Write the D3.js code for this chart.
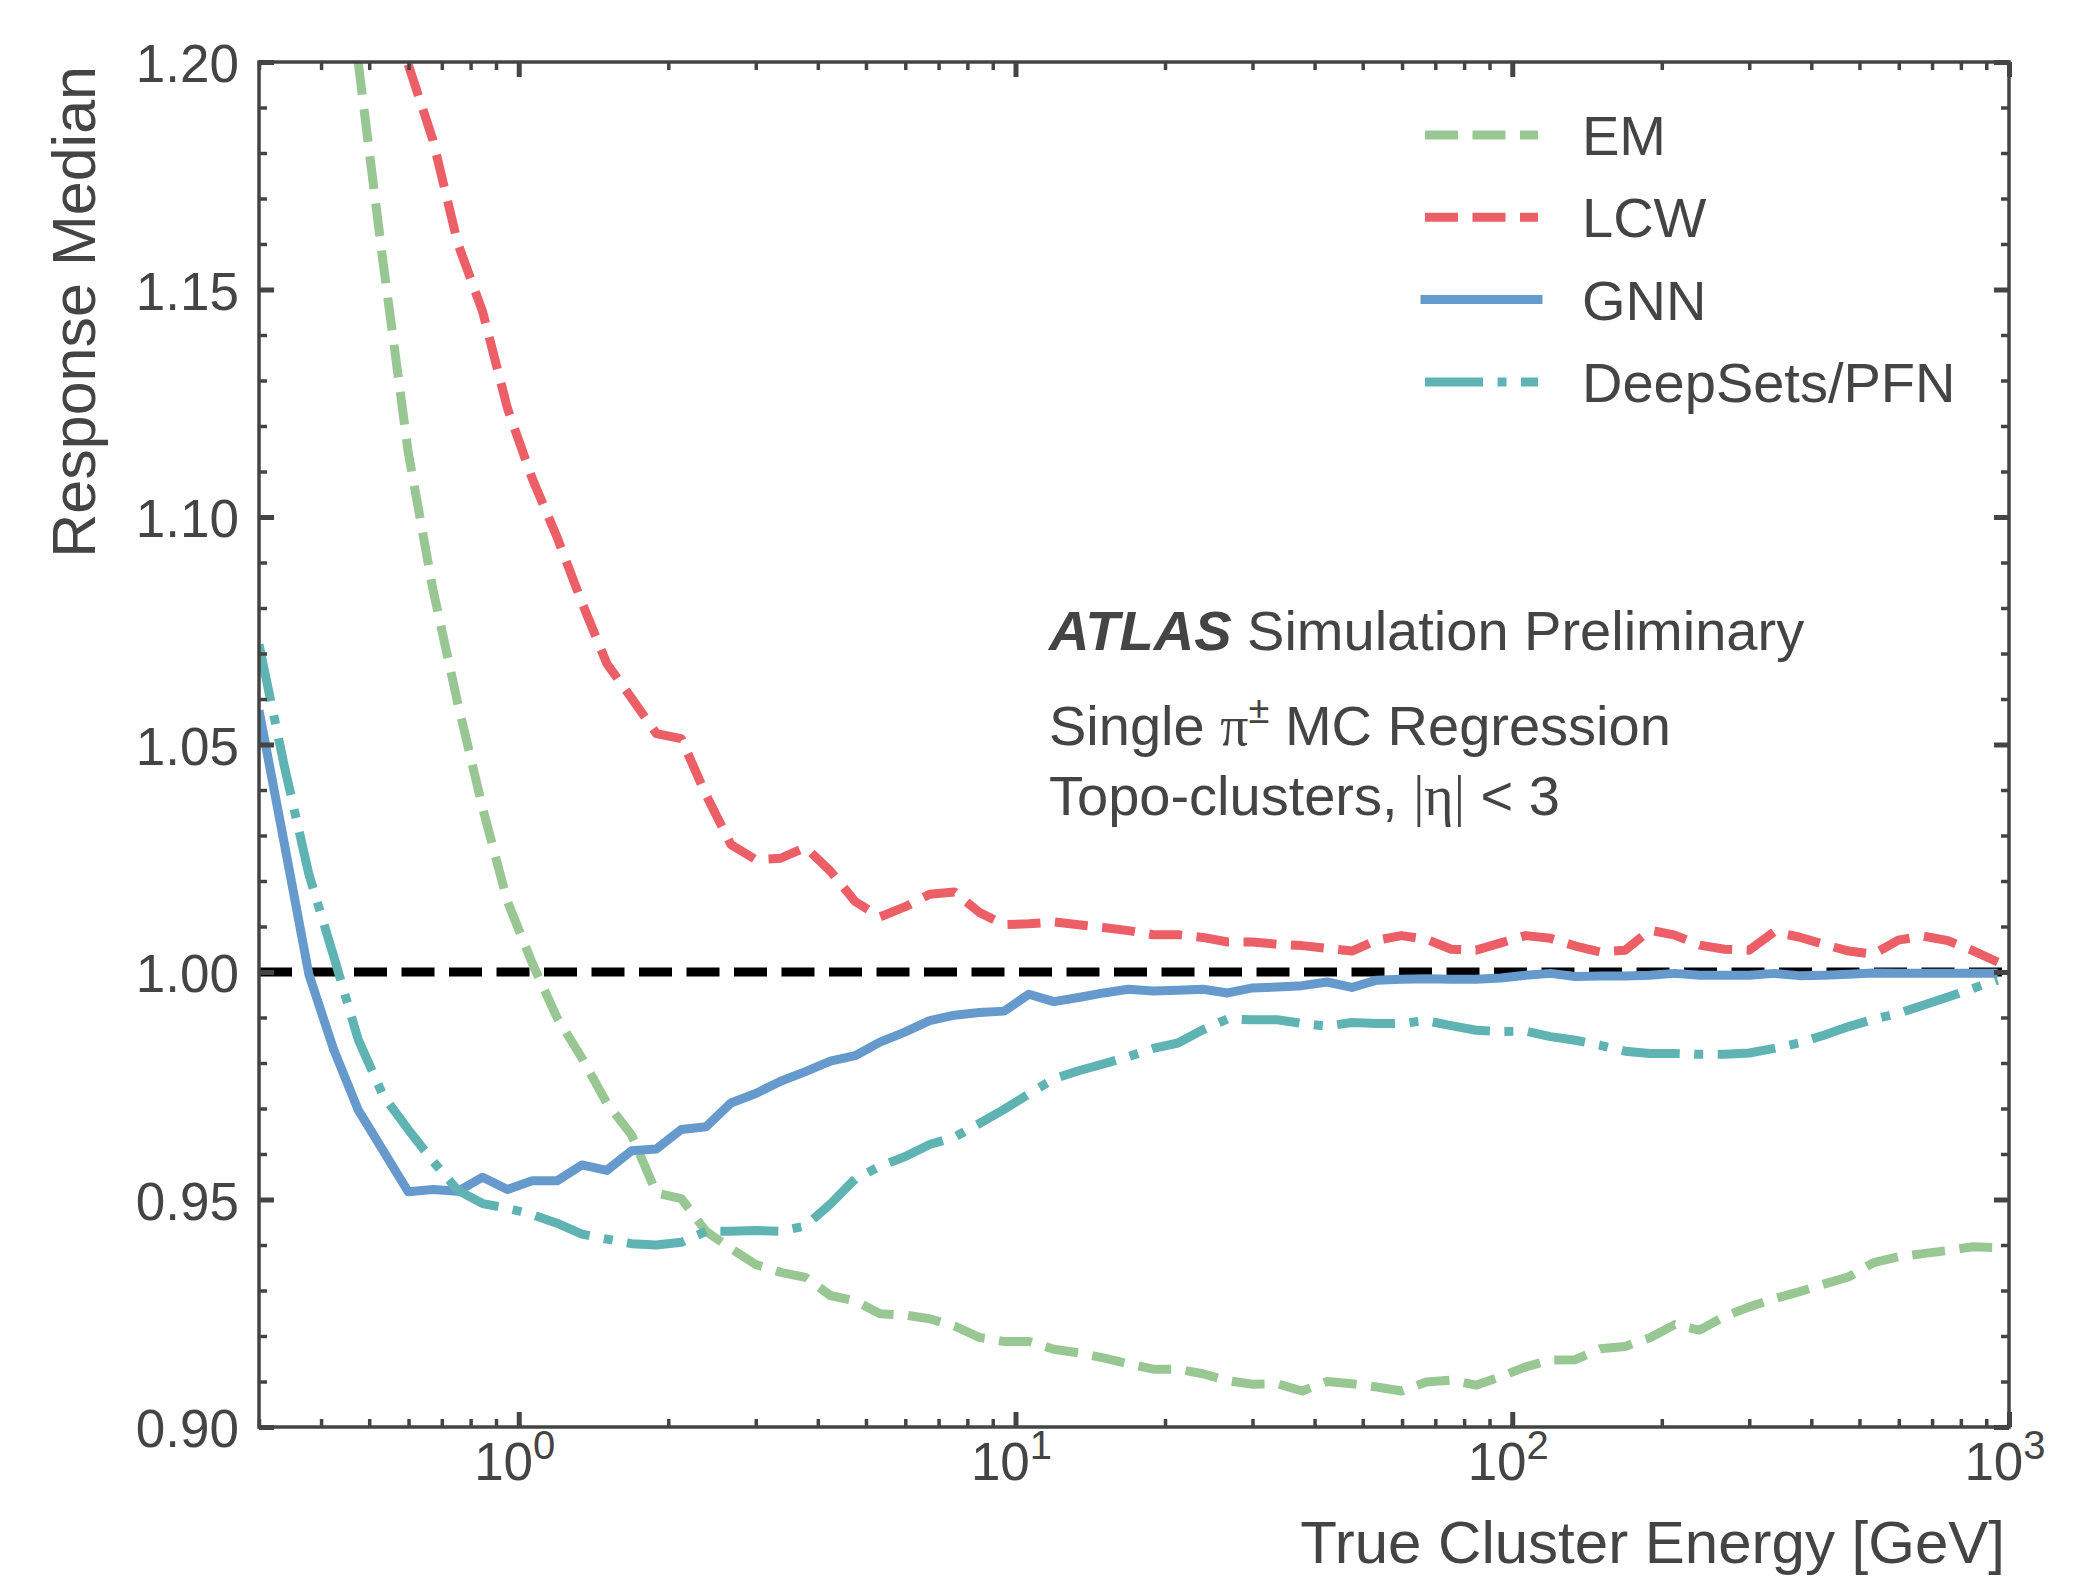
<!DOCTYPE html>
<html lang="en">
<head>
<meta charset="UTF-8">
<title>Response Median vs True Cluster Energy</title>
<script src="https://d3js.org/d3.v7.min.js"></script>
<style>
  body { margin: 0; background: #fff; }
  svg text { font-family: "Liberation Sans", Arial, Helvetica, sans-serif; fill: #444; }
</style>
</head>
<body>
<div id="chart"></div>
<script>
// bin energies in GeV (20 log bins per decade)
const energy = [
  0.300, 0.337, 0.378, 0.424, 0.475, 0.533, 0.599, 0.672, 0.754, 0.846,
  0.949, 1.064, 1.194, 1.340, 1.504, 1.687, 1.893, 2.124, 2.383, 2.674,
  3.000, 3.366, 3.777, 4.238, 4.755, 5.335, 5.986, 6.716, 7.536, 8.455,
  9.487, 10.64, 11.94, 13.40, 15.04, 16.87, 18.93, 21.24, 23.83, 26.74,
  30.00, 33.66, 37.77, 42.38, 47.55, 53.35, 59.86, 67.16, 75.36, 84.55,
  94.87, 106.4, 119.4, 134.0, 150.4, 168.7, 189.3, 212.4, 238.3, 267.4,
  300.0, 336.6, 377.7, 423.8, 475.5, 533.5, 598.6, 671.6, 753.6, 845.5,
  948.7
];

// null = above the plotted range
const emMedian = [
  null, null, null, null, 1.2000, 1.1561, 1.1143, 1.0840, 1.0590, 1.0360,
  1.0155, 1.0020, 0.9900, 0.9811, 0.9712, 0.9642, 0.9514, 0.9502, 0.9430, 0.9392,
  0.9357, 0.9340, 0.9329, 0.9289, 0.9277, 0.9249, 0.9246, 0.9238, 0.9222, 0.9197,
  0.9188, 0.9188, 0.9171, 0.9163, 0.9152, 0.9139, 0.9127, 0.9127, 0.9117, 0.9102,
  0.9094, 0.9095, 0.9079, 0.9100, 0.9095, 0.9088, 0.9079, 0.9099, 0.9103, 0.9092,
  0.9111, 0.9132, 0.9147, 0.9148, 0.9172, 0.9177, 0.9196, 0.9225, 0.9213, 0.9243,
  0.9264, 0.9282, 0.9297, 0.9314, 0.9330, 0.9361, 0.9374, 0.9381, 0.9388, 0.9396,
  0.9394
];

const lcwMedian = [
  null, null, null, null, null, null, 1.1995, 1.1828, 1.1601, 1.1451,
  1.1239, 1.1085, 1.0956, 1.0812, 1.0678, 1.0602, 1.0524, 1.0513, 1.0389, 1.0280,
  1.0247, 1.0250, 1.0274, 1.0222, 1.0155, 1.0121, 1.0143, 1.0171, 1.0176, 1.0131,
  1.0104, 1.0106, 1.0110, 1.0104, 1.0098, 1.0091, 1.0082, 1.0082, 1.0076, 1.0066,
  1.0066, 1.0061, 1.0058, 1.0052, 1.0046, 1.0070, 1.0080, 1.0072, 1.0050, 1.0048,
  1.0064, 1.0080, 1.0074, 1.0057, 1.0044, 1.0048, 1.0092, 1.0081, 1.0059, 1.0050,
  1.0048, 1.0088, 1.0077, 1.0061, 1.0046, 1.0039, 1.0070, 1.0079, 1.0069, 1.0047,
  1.0022
];

const gnnMedian = [
  1.0575, 1.0285, 0.9995, 0.9830, 0.9697, 0.9608, 0.9517, 0.9522, 0.9518, 0.9549,
  0.9522, 0.9541, 0.9541, 0.9576, 0.9564, 0.9607, 0.9611, 0.9654, 0.9660, 0.9712,
  0.9733, 0.9760, 0.9781, 0.9804, 0.9816, 0.9846, 0.9868, 0.9893, 0.9905, 0.9911,
  0.9914, 0.9951, 0.9935, 0.9944, 0.9954, 0.9962, 0.9958, 0.9960, 0.9962, 0.9954,
  0.9965, 0.9967, 0.9970, 0.9978, 0.9966, 0.9982, 0.9984, 0.9985, 0.9984, 0.9984,
  0.9987, 0.9993, 0.9997, 0.9990, 0.9991, 0.9991, 0.9993, 0.9997, 0.9993, 0.9993,
  0.9993, 0.9997, 0.9992, 0.9993, 0.9995, 0.9998, 0.9997, 0.9997, 0.9997, 0.9997,
  0.9997
];

const pfnMedian = [
  1.0720, 1.0455, 1.0215, 1.0035, 0.9852, 0.9729, 0.9654, 0.9584, 0.9520, 0.9491,
  0.9481, 0.9467, 0.9448, 0.9424, 0.9413, 0.9403, 0.9400, 0.9406, 0.9430, 0.9430,
  0.9432, 0.9430, 0.9442, 0.9490, 0.9545, 0.9573, 0.9594, 0.9621, 0.9637, 0.9667,
  0.9698, 0.9732, 0.9765, 0.9783, 0.9798, 0.9814, 0.9832, 0.9844, 0.9873, 0.9897,
  0.9895, 0.9895, 0.9887, 0.9881, 0.9889, 0.9887, 0.9887, 0.9893, 0.9882, 0.9872,
  0.9869, 0.9870, 0.9858, 0.9850, 0.9839, 0.9826, 0.9821, 0.9821, 0.9819, 0.9819,
  0.9822, 0.9832, 0.9844, 0.9861, 0.9880, 0.9896, 0.9909, 0.9927, 0.9945, 0.9964,
  0.9982
];

const yTicks = [0.90, 0.95, 1.00, 1.05, 1.10, 1.15, 1.20];
const xTickExps = [0, 1, 2, 3];

const width = 2077, height = 1579;
const plot = {left: 259, right: 2009, top: 62, bottom: 1427};
const lw = 9;
const ink = "#444";

const svg = d3.select("#chart").append("svg")
  .attr("width", width)
  .attr("height", height);

const x = d3.scaleLog().domain([0.3, 1000]).range([plot.left, plot.right]);
const y = d3.scaleLinear().domain([0.90, 1.20]).range([plot.bottom, plot.top]);

svg.append("clipPath").attr("id", "plot-clip")
  .append("rect")
  .attr("x", plot.left).attr("y", plot.top)
  .attr("width", plot.right - plot.left).attr("height", plot.bottom - plot.top);

// reference line at 1
svg.append("line")
  .attr("x1", plot.left).attr("x2", plot.right)
  .attr("y1", y(1)).attr("y2", y(1))
  .attr("stroke", "#000")
  .attr("stroke-width", lw)
  .attr("stroke-dasharray", "33,14.5");

const series = [
  {name: "EM", values: emMedian, color: "#99C794", dash: "33,14.5", cap: "butt"},
  {name: "LCW", values: lcwMedian, color: "#EC5F67", dash: "33,14.5", cap: "butt"},
  {name: "GNN", values: gnnMedian, color: "#6699CC", dash: null, cap: "square"},
  {name: "DeepSets/PFN", values: pfnMedian, color: "#5FB3B3", dash: "58,14.5,9,14.5", cap: "butt"}
];

const line = d3.line()
  .defined(d => d.v != null)
  .x(d => x(d.e))
  .y(d => y(d.v));

const lines = svg.append("g").attr("clip-path", "url(#plot-clip)");
series.forEach(s => {
  lines.append("path")
    .datum(energy.map((e, i) => ({e: e, v: s.values[i]})))
    .attr("fill", "none")
    .attr("stroke", s.color)
    .attr("stroke-width", lw)
    .attr("stroke-linejoin", "round")
    .attr("stroke-linecap", "butt")
    .attr("stroke-dasharray", s.dash)
    .attr("d", line);
});

// axes: ticks on all four sides, pointing inward
const majorX = xTickExps.map(p => Math.pow(10, p));
const minorX = x.ticks().filter(t => !majorX.some(m => Math.abs(m - t) < 1e-9));
const minorY = d3.range(0, 31).map(k => 0.90 + k * 0.01)
  .filter(v => !yTicks.some(t => Math.abs(t - v) < 1e-9));

function tickAxis(axisFn, scale, values, size, width, transform) {
  const g = svg.append("g")
    .attr("transform", transform)
    .call(axisFn(scale).tickValues(values).tickSize(-size).tickFormat(""));
  g.select(".domain").remove();
  g.selectAll(".tick line").attr("stroke", ink).attr("stroke-width", width);
  return g;
}

tickAxis(d3.axisBottom, x, minorX, 8, 3.5, `translate(0,${plot.bottom})`);
tickAxis(d3.axisBottom, x, majorX, 15, 5, `translate(0,${plot.bottom})`);
tickAxis(d3.axisTop, x, minorX, 8, 3.5, `translate(0,${plot.top})`);
tickAxis(d3.axisTop, x, majorX, 15, 5, `translate(0,${plot.top})`);
tickAxis(d3.axisLeft, y, minorY, 8, 3.5, `translate(${plot.left},0)`);
tickAxis(d3.axisLeft, y, yTicks, 15, 5, `translate(${plot.left},0)`);
tickAxis(d3.axisRight, y, minorY, 8, 3.5, `translate(${plot.right},0)`);
tickAxis(d3.axisRight, y, yTicks, 15, 5, `translate(${plot.right},0)`);

svg.append("rect")
  .attr("x", plot.left).attr("y", plot.top)
  .attr("width", plot.right - plot.left).attr("height", plot.bottom - plot.top)
  .attr("fill", "none")
  .attr("stroke", ink)
  .attr("stroke-width", 3.5);

// tick labels
svg.append("g").selectAll("text")
  .data(yTicks)
  .join("text")
  .attr("x", plot.left - 20)
  .attr("y", d => y(d) + 20)
  .attr("text-anchor", "end")
  .style("font-size", "53px")
  .text(d => d.toFixed(2));

const xLabels = svg.append("g").selectAll("text")
  .data(xTickExps)
  .join("text")
  .attr("x", d => x(Math.pow(10, d)) - 4)
  .attr("y", 1480)
  .attr("text-anchor", "middle")
  .style("font-size", "53px");
xLabels.append("tspan").text("10");
xLabels.append("tspan")
  .attr("dy", -21)
  .style("font-size", "40px")
  .text(d => d);

// axis titles
svg.append("text")
  .attr("x", 2005)
  .attr("y", 1563)
  .attr("text-anchor", "end")
  .style("font-size", "60px")
  .text("True Cluster Energy [GeV]");

svg.append("text")
  .attr("transform", "translate(95,66) rotate(-90)")
  .attr("text-anchor", "end")
  .style("font-size", "61px")
  .text("Response Median");

// legend
const legend = svg.append("g");
series.forEach((s, i) => {
  const ly = 135 + i * 82.3;
  legend.append("line")
    .attr("x1", 1425).attr("x2", 1538)
    .attr("y1", ly).attr("y2", ly)
    .attr("stroke", s.color)
    .attr("stroke-width", lw)
    .attr("stroke-linecap", s.cap)
    .attr("stroke-dasharray", s.dash);
  legend.append("text")
    .attr("x", 1582)
    .attr("y", ly + 20)
    .style("font-size", "56px")
    .text(s.name);
});

// annotation
const note = svg.append("g").style("font-size", "56px");
const t1 = note.append("text").attr("x", 1049).attr("y", 650);
t1.append("tspan").style("font-weight", "bold").style("font-style", "italic").text("ATLAS");
t1.append("tspan").text(" Simulation Preliminary");

const t2 = note.append("text").attr("x", 1049).attr("y", 745);
t2.append("tspan").text("Single ");
t2.append("tspan").style("font-family", "'Liberation Serif', 'DejaVu Serif', serif").text("π");
t2.append("tspan").attr("dy", -22).style("font-size", "38px").text("±");
t2.append("tspan").attr("dy", 22).text(" MC Regression");

const t3 = note.append("text").attr("x", 1049).attr("y", 815);
t3.append("tspan").text("Topo-clusters, ");
t3.append("tspan").style("font-family", "'Liberation Serif', 'DejaVu Serif', serif").text("|η|");
t3.append("tspan").text(" < 3");
</script>
</body>
</html>
